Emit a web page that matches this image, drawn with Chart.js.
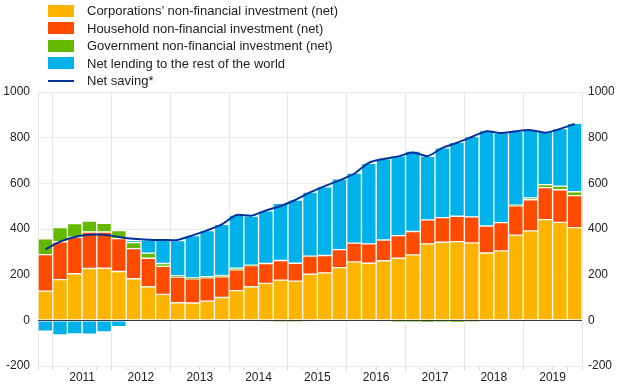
<!DOCTYPE html>
<html>
<head>
<meta charset="utf-8">
<script src="https://cdn.jsdelivr.net/npm/chart.js@4"></script>
<style>
body { margin: 0; background: #fff; font-family: "Liberation Sans", Arial, sans-serif; }
#wrap { position: relative; width: 620px; height: 388px; }
#legend { position: absolute; left: 48px; top: 2px; font-size: 13px; color: #222; }
#legend .row { height: 17.5px; display: flex; align-items: center; }
#legend .box { width: 26px; height: 12px; margin-right: 13px; }
#legend .ln { width: 26px; height: 2px; margin-right: 13px; }
</style>
</head>
<body>
<div id="wrap">
  <canvas id="chart" width="620" height="388"></canvas>
  <div id="legend"></div>
</div>
<script>
// quarters 2010Q4 - 2019Q4
var quarters = ['2010Q4',
  '2011Q1', '2011Q2', '2011Q3', '2011Q4',
  '2012Q1', '2012Q2', '2012Q3', '2012Q4',
  '2013Q1', '2013Q2', '2013Q3', '2013Q4',
  '2014Q1', '2014Q2', '2014Q3', '2014Q4',
  '2015Q1', '2015Q2', '2015Q3', '2015Q4',
  '2016Q1', '2016Q2', '2016Q3', '2016Q4',
  '2017Q1', '2017Q2', '2017Q3', '2017Q4',
  '2018Q1', '2018Q2', '2018Q3', '2018Q4',
  '2019Q1', '2019Q2', '2019Q3', '2019Q4']
var corporations = [128, 178, 204, 227, 228, 214, 182, 147, 114, 77, 76, 84, 100, 130, 147, 162, 176, 172, 202, 208, 231, 256, 250, 261, 272, 287, 335, 342, 345, 339, 295, 304, 373, 392, 441, 429, 406]
var households = [160, 166, 160, 160, 159, 144, 132, 125, 122, 112, 106, 102, 90, 91, 93, 87, 86, 78, 79, 76, 79, 82, 85, 91, 99, 102, 105, 108, 111, 114, 118, 124, 129, 136, 140, 143, 140]
var government = [69, 62, 60, 48, 38, 35, 27, 22, 13, 7, 4, 5, 7, 7, 2, -4, -5, -5, -3, 0, 0, 0, 0, -3, -6, -8, -9, -8, -7, -5, 0, 0, 2, 9, 13, 16, 17]
var netLending = [-47, -64, -60, -61, -51, -28, 7, 58, 103, 153, 185, 202, 224, 233, 215, 231, 250, 277, 281, 301, 310, 307, 353, 355, 349, 352, 278, 305, 324, 352, 418, 392, 324, 297, 234, 252, 300]
var netSaving = [311, 345, 365, 375, 375, 365, 357, 353, 352, 352, 372, 394, 420, 461, 458, 481, 501, 527, 560, 588, 613, 642, 690, 707, 718, 735, 719, 755, 778, 803, 828, 820, 828, 833, 822, 838, 860]
var yTicks = [-200, 0, 200, 400, 600, 800, 1000]

var colors = ['#FFB400', '#FF4B00', '#65B800', '#00B1EA', '#003299']
var names = ['Corporations’ non-financial investment (net)', 'Household non-financial investment (net)',
  'Government non-financial investment (net)', 'Net lending to the rest of the world', 'Net saving*']

// legend
var leg = document.getElementById('legend')
names.forEach(function (n, i) {
    var row = document.createElement('div')
    row.className = 'row'
    var sw = document.createElement('div')
    sw.className = i == 4 ? 'ln' : 'box'
    sw.style.background = colors[i]
    row.appendChild(sw)
    row.appendChild(document.createTextNode(n))
    leg.appendChild(row)
})

function bar(label, data, color) {
    return {
        type: 'bar',
        label: label,
        data: data,
        backgroundColor: color,
        borderColor: 'rgba(255,255,255,0.35)',
        borderWidth: 1,
        borderSkipped: false,
        stack: 'bars',
        order: 2
    }
}

var zeroLine = {
    id: 'zeroLine',
    afterDatasetsDraw: function (chart) {
        var ctx = chart.ctx, y = chart.scales.y.getPixelForValue(0)
        ctx.save()
        ctx.strokeStyle = '#3a3a3a'
        ctx.lineWidth = 1
        ctx.beginPath()
        ctx.moveTo(chart.chartArea.left, Math.round(y) + 0.5)
        ctx.lineTo(chart.chartArea.right, Math.round(y) + 0.5)
        ctx.stroke()
        ctx.restore()
    }
}

var tickFont = { family: '"Liberation Sans", Arial, sans-serif', size: 12 }
var plain = function (v) { return String(v) }

new Chart(document.getElementById('chart').getContext('2d'), {
    data: {
        labels: quarters,
        datasets: [
            bar(names[0], corporations, colors[0]),
            bar(names[1], households, colors[1]),
            bar(names[2], government, colors[2]),
            bar(names[3], netLending, colors[3]),
            {
                type: 'line',
                label: names[4],
                data: netSaving,
                borderColor: colors[4],
                borderWidth: 2,
                pointRadius: 0,
                tension: 0.25,
                stack: 'line',
                order: 1
            }
        ]
    },
    options: {
        responsive: false,
        animation: false,
        layout: { padding: { top: 92, left: 3, right: 6, bottom: 0 } },
        datasets: { bar: { barPercentage: 1, categoryPercentage: 1 } },
        plugins: { legend: { display: false }, tooltip: { enabled: false } },
        scales: {
            x: {
                stacked: true,
                offset: true,
                afterFit: function (s) { s.height = 22 },
                grid: {
                    offset: true,
                    color: function (c) { return c.index % 4 == 1 ? '#e6e6e6' : 'rgba(0,0,0,0)' },
                    tickColor: '#d9d9d9',
                    tickLength: 4
                },
                border: { display: false },
                ticks: {
                    autoSkip: false,
                    maxRotation: 0,
                    color: '#222',
                    font: tickFont,
                    padding: 0,
                    labelOffset: 7.35,
                    callback: function (v, i) { return i % 4 == 2 ? quarters[i].slice(0, 4) : '' }
                }
            },
            y: {
                stacked: true,
                position: 'left',
                min: -200,
                max: 1000,
                afterBuildTicks: function (s) { s.ticks = yTicks.map(function (v) { return { value: v } }) },
                afterFit: function (s) { s.width = 35 },
                grid: { color: '#ebebeb', drawTicks: false },
                border: { color: '#e6e6e6' },
                ticks: { color: '#222', font: tickFont, padding: 8, callback: plain }
            },
            y2: {
                position: 'right',
                min: -200,
                max: 1000,
                afterBuildTicks: function (s) { s.ticks = yTicks.map(function (v) { return { value: v } }) },
                afterFit: function (s) { s.width = 32 },
                grid: { display: false, drawTicks: false },
                border: { color: '#e6e6e6' },
                ticks: { color: '#222', font: tickFont, padding: 6, callback: plain }
            }
        }
    },
    plugins: [zeroLine]
})
</script>
</body>
</html>
